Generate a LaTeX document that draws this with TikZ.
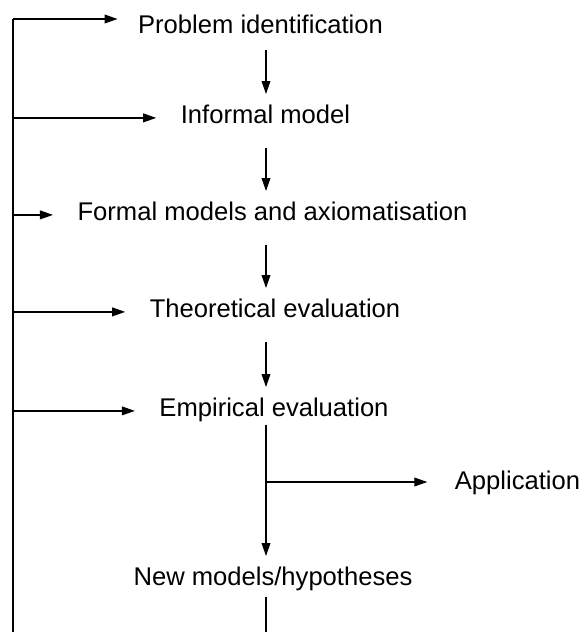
\documentclass[tikz,border=0pt]{standalone}
\usepackage{fontspec}
\setmainfont{Liberation Sans}
\usetikzlibrary{arrows.meta}
\begin{document}
\begin{tikzpicture}[x=0.5pt,y=-0.5pt,
  line width=0.6pt,
  stage/.style={anchor=base,inner xsep=0pt,inner ysep=0pt,
    text height=0.72em,text depth=0.21em,
    font=\fontsize{12.8pt}{15pt}\selectfont},
  flow/.style={-{Triangle[length=6.5pt,width=4.4pt]}},
  feed/.style={flow,shorten >=12pt},
  down/.style={flow,shorten <=10pt,shorten >=7pt}]
\useasboundingbox (0,0) rectangle (581,632);

% stages of the method
\node[stage] (p1) at (260.5,33)  {Problem identification};
\node[stage] (p2) at (265.5,123) {Informal model};
\node[stage] (p3) at (272.5,220) {Formal models and axiomatisation};
\node[stage] (p4) at (275,317)   {Theoretical evaluation};
\node[stage] (p5) at (274,416)   {Empirical evaluation};
\node[stage] (p6) at (517.5,489) {Application};
\node[stage] (p7) at (273,585)   {New models/hypotheses};

% main axis and feedback spine
\coordinate (axis) at (266,0);
\coordinate (L1) at (13,19);
\coordinate (Lbot) at (13,632);
\coordinate (Abot) at (266,632);
\coordinate (B) at (266,482);

\draw (L1) -- (Lbot);
\draw[feed,shorten >=10pt] (L1) -- (L1 -| p1.west);
\draw[feed] (L1 |- p2.west) -- (p2.west);
\draw[feed] (L1 |- p3.west) -- (p3.west);
\draw[feed] (L1 |- p4.west) -- (p4.west);
\draw[feed] (L1 |- p5.west) -- (p5.west);

% downward flow
\draw[down,shorten <=6pt] (p1.south -| axis) -- (p2.north -| axis);
\draw[down] (p2.south -| axis) -- (p3.north -| axis);
\draw[down] (p3.south -| axis) -- (p4.north -| axis);
\draw[down] (p4.south -| axis) -- (p5.north -| axis);
\draw[down,shorten <=2pt] (p5.south -| axis) -- (p7.north -| axis);
\draw[feed,shorten >=13.5pt] (B) -- (B -| p6.west);
\draw[shorten <=3.5pt] (p7.south -| axis) -- (Abot);
\end{tikzpicture}
\end{document}
